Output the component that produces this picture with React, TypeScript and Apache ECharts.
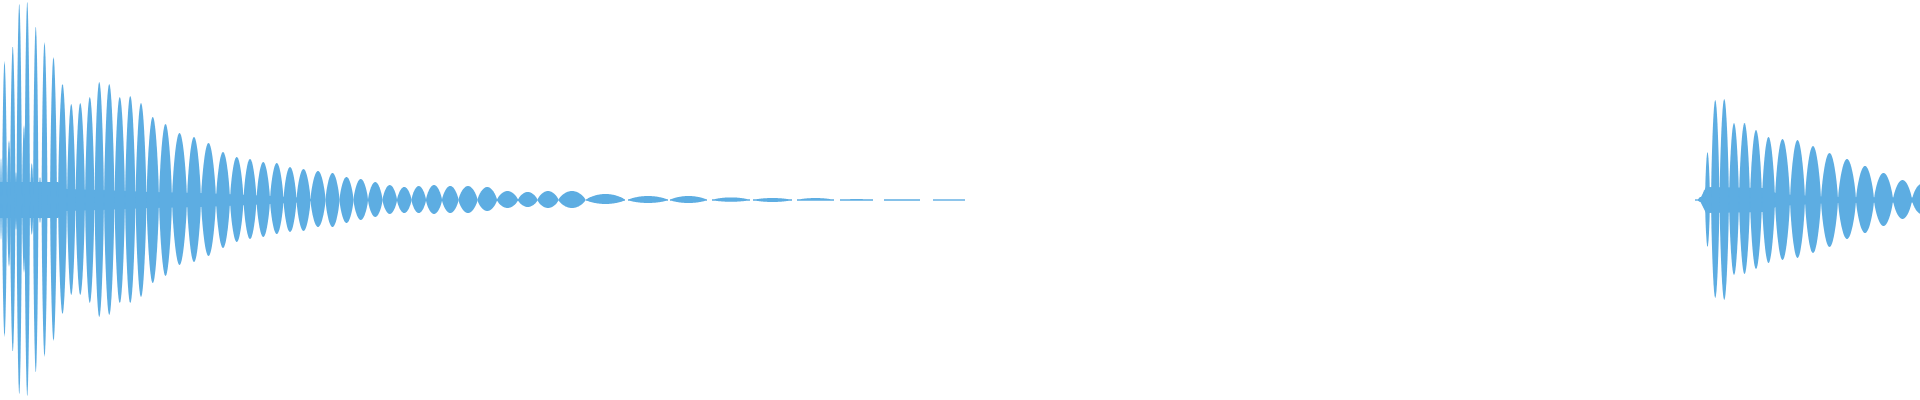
import { useEffect, useRef } from 'react'
import * as echarts from 'echarts'

const COLOR = '#5DADE2'
// thinnest stroke of the waveform, in px (half of it)
const MIN_HALF = 0.7
// how round a lobe is (1 = plain sine envelope)
const LOBE_POWER = 0.7

// lobes of the waveform envelope: [start, end, peak above, peak below]
// x in columns of the strip (0..1920), amplitude in -1..1
const attackLobes: [number, number, number, number][] = [
  [0, 2, 0.21, 0.2],
  [2, 7, 0.695, 0.685],
  [7, 11, 0.3, 0.335],
  [10, 15.5, 0.77, 0.76],
  [14.5, 17.5, 0.14, 0.15],
  [16.5, 22, 0.985, 0.975],
  [22, 26, 0.375, 0.365],
  [24.5, 30, 0.995, 0.985],
  [30, 33.5, 0.185, 0.175],
  [33, 38.5, 0.87, 0.865],
  [38.5, 41.5, 0.115, 0.115],
  [41.5, 47.5, 0.79, 0.785],
  [50, 57, 0.715, 0.705],
  [58, 67, 0.58, 0.57],
]

const decayLobes: [number, number, number, number][] = [
  [67, 75.5, 0.48, 0.475],
  [75.5, 85, 0.485, 0.475],
  [85, 94.5, 0.515, 0.515],
  [94.5, 104, 0.59, 0.585],
  [104, 114.5, 0.58, 0.575],
  [114.5, 125, 0.515, 0.515],
  [125, 135.5, 0.52, 0.515],
  [135.5, 146.5, 0.485, 0.485],
  [146.5, 159, 0.415, 0.415],
  [159, 172, 0.38, 0.38],
  [172, 187, 0.335, 0.325],
  [187, 201, 0.315, 0.31],
  [201, 216, 0.285, 0.28],
  [216, 230, 0.24, 0.24],
  [230, 243.5, 0.215, 0.21],
  [243.5, 256.5, 0.205, 0.195],
  [256.5, 270, 0.19, 0.185],
  [270, 283.5, 0.185, 0.17],
  [283.5, 296.5, 0.165, 0.16],
  [296.5, 310.5, 0.155, 0.155],
  [310.5, 325.5, 0.145, 0.135],
  [325.5, 339.5, 0.135, 0.135],
  [339.5, 353.5, 0.115, 0.115],
  [353.5, 368, 0.105, 0.1],
  [368, 382.5, 0.09, 0.085],
  [382.5, 397, 0.075, 0.07],
  [397, 411.5, 0.065, 0.065],
  [411.5, 426, 0.07, 0.065],
  [426, 442, 0.075, 0.07],
  [442, 458.5, 0.07, 0.065],
  [458.5, 477.5, 0.07, 0.065],
  [477.5, 497, 0.065, 0.055],
  [497, 518, 0.045, 0.04],
  [518, 537.5, 0.04, 0.035],
  [537.5, 558.5, 0.045, 0.04],
  [558.5, 585.5, 0.045, 0.04],
  [586, 625, 0.03, 0.02],
  [628, 668, 0.02, 0.015],
  [670, 707, 0.02, 0.015],
  [712, 750, 0.013, 0.009],
  [753, 792, 0.01, 0.01],
  [797, 834, 0.01, 0.004],
  [840, 873, 0.005, 0.004],
  [884, 920, 0, 0],
  [933, 965, 0, 0],
]

const secondHitLobes: [number, number, number, number][] = [
  [1695, 1699, 0, 0],
  [1698, 1703, 0.015, 0.01],
  [1703, 1705.5, 0.05, 0.04],
  [1705, 1710, 0.24, 0.235],
  [1711, 1719.5, 0.5, 0.49],
  [1719.5, 1729, 0.505, 0.5],
  [1729, 1739, 0.385, 0.375],
  [1739, 1750, 0.385, 0.37],
  [1750, 1762, 0.35, 0.345],
  [1762, 1775, 0.315, 0.315],
  [1775, 1790, 0.305, 0.3],
  [1790, 1805, 0.3, 0.29],
  [1805, 1821, 0.27, 0.265],
  [1821, 1838, 0.235, 0.235],
  [1838, 1856, 0.205, 0.195],
  [1856, 1874, 0.17, 0.165],
  [1874, 1893, 0.135, 0.13],
  [1893, 1912, 0.1, 0.095],
  [1912, 1931, 0.08, 0.07],
]

// dense core between the lobes (half height)
const coreLeftX = [0, 58, 66, 100, 150, 200, 250, 300, 320]
const coreLeftHalf = [0.09, 0.09, 0.055, 0.05, 0.04, 0.035, 0.025, 0.013, 0]
const coreRightX = [1700, 1706, 1765, 1778, 1830, 1920]
const coreRightHalf = [0.005, 0.065, 0.06, 0.03, 0.015, 0.012]

function renderLobe(_params: any, api: any) {
  const x0 = api.value(0)
  const x1 = api.value(1)
  const top = api.value(2)
  const bottom = api.value(3)
  const steps = Math.max(8, Math.ceil(api.size([x1 - x0, 0])[0] * 2))
  const upper: number[][] = []
  const lower: number[][] = []
  for (let i = 0; i <= steps; i++) {
    const t = i / steps
    const x = x0 + (x1 - x0) * t
    const env = Math.pow(Math.sin(Math.PI * t), LOBE_POWER)
    const [px, mid] = api.coord([x, 0])
    const yt = api.coord([x, top * env])[1]
    const yb = api.coord([x, -bottom * env])[1]
    upper.push([px, Math.min(yt, mid - MIN_HALF)])
    lower.push([px, Math.max(yb, mid + MIN_HALF)])
  }
  return {
    type: 'polygon',
    shape: { points: upper.concat(lower.reverse()) },
    style: { fill: COLOR },
  }
}

function bandRenderer(xs: number[], halves: number[]) {
  return (params: any, api: any) => {
    if (params.dataIndex !== 0) return null
    const upper = xs.map((x, i) => api.coord([x, halves[i]]))
    const lower = xs.map((x, i) => api.coord([x, -halves[i]])).reverse()
    return {
      type: 'polygon',
      shape: { points: upper.concat(lower) },
      style: { fill: COLOR },
    }
  }
}

function lobeSeries(data: [number, number, number, number][]) {
  return {
    type: 'custom',
    renderItem: renderLobe,
    clip: true,
    silent: true,
    encode: { x: [0, 1], y: [2, 3] },
    data,
  }
}

function bandSeries(xs: number[], halves: number[]) {
  return {
    type: 'custom',
    renderItem: bandRenderer(xs, halves),
    clip: true,
    silent: true,
    encode: { x: 0, y: 1 },
    data: xs.map((x, i) => [x, halves[i]]),
  }
}

export default function App() {
  const chartRef = useRef<HTMLDivElement>(null)

  useEffect(() => {
    if (!chartRef.current) return
    const chart = echarts.init(chartRef.current, undefined, { renderer: 'svg' })

    const option: any = {
      animation: false,
      backgroundColor: '#ffffff',
      grid: { left: 0, right: 0, top: 0, bottom: 0 },
      xAxis: { type: 'value', min: 0, max: 1920, show: false },
      yAxis: { type: 'value', min: -1, max: 1, show: false },
      series: [
        bandSeries(coreLeftX, coreLeftHalf),
        bandSeries(coreRightX, coreRightHalf),
        lobeSeries(attackLobes),
        lobeSeries(decayLobes),
        lobeSeries(secondHitLobes),
      ],
    }

    chart.setOption(option)

    return () => {
      chart.dispose()
    }
  }, [])

  return (
    <div
      ref={chartRef}
      style={{ position: 'absolute', left: 0, top: 0, width: '1920px', height: '400px' }}
    />
  )
}
